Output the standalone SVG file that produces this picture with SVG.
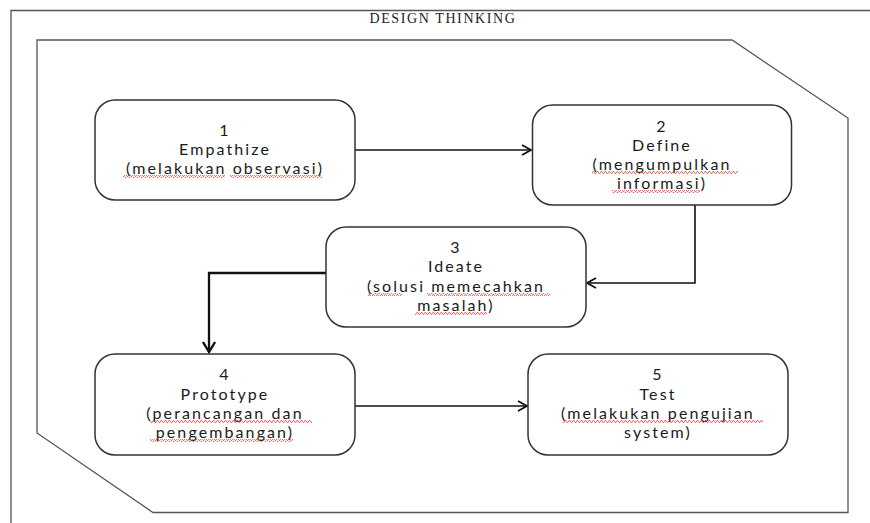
<svg xmlns="http://www.w3.org/2000/svg" width="870" height="523" viewBox="0 0 870 523">
<style>
.frame{fill:none;stroke:#555;stroke-width:1.3}
.box{fill:#fff;stroke:#333;stroke-width:1.5}
.lbl{font-family:Lato,"Liberation Sans",sans-serif;font-size:16px;font-weight:400;fill:#1a1a1a;text-anchor:middle;letter-spacing:2.1px}
.title{font-family:"Liberation Serif",serif;font-size:14px;fill:#222;text-anchor:middle;letter-spacing:1.6px}
.conn{fill:none;stroke:#111;stroke-width:1.6}
.sq{fill:url(#squig)}
</style>
<defs>
<marker id="ah" markerWidth="12" markerHeight="12" refX="10" refY="6" orient="auto" markerUnits="userSpaceOnUse">
<path d="M1,1 L10,6 L1,11" fill="none" stroke="#111" stroke-width="1.8"/>
</marker>
<marker id="ah2" markerWidth="14" markerHeight="14" refX="11" refY="7" orient="auto" markerUnits="userSpaceOnUse">
<path d="M1,1 L11,7 L1,13" fill="none" stroke="#111" stroke-width="2.4"/>
</marker>
<pattern id="squig" width="4" height="3" patternUnits="userSpaceOnUse">
<polyline points="0,2.5 1,0.5 2,0.5 3,2.5 4,2.5" fill="none" stroke="#e33" stroke-width="0.7"/>
</pattern>
</defs>
<rect x="0" y="0" width="870" height="523" fill="#fff"/>
<g id="outer-frame">
<path class="frame" d="M11,530 L11,10.5 L880,10.5"/>
<text class="title" x="443" y="23">DESIGN THINKING</text>
<path class="frame" d="M37,40 L732,40 L848,118 L848,512.5 L153,512.5 L37,433 Z"/>
</g>
<g id="connectors">
<line class="conn" x1="355" y1="150" x2="531" y2="150" marker-end="url(#ah)"/>
<polyline class="conn" points="695,205 695,283 587,283" marker-end="url(#ah)"/>
<polyline class="conn" points="326,273 209,273 209,352" style="stroke-width:2.3" marker-end="url(#ah2)"/>
<line class="conn" x1="355" y1="406" x2="527" y2="406" marker-end="url(#ah)"/>
</g>
<g id="node1">
<rect class="box" x="95" y="100" width="260" height="100" rx="20"/>
<text class="lbl" x="225" y="136">1</text>
<text class="lbl" x="225" y="155">Empathize</text>
<text class="lbl" x="225" y="174">(melakukan observasi)</text>
<rect class="sq" x="123" y="175" width="102" height="3"/>
<rect class="sq" x="230" y="175" width="92" height="3"/>
</g>
<g id="node2">
<rect class="box" x="532.5" y="105" width="259" height="100" rx="20"/>
<text class="lbl" x="662" y="132">2</text>
<text class="lbl" x="662" y="151">Define</text>
<text class="lbl" x="662" y="170">(mengumpulkan</text>
<text class="lbl" x="662" y="189">informasi)</text>
<rect class="sq" x="592" y="171" width="146" height="3"/>
<rect class="sq" x="612" y="190" width="88" height="3"/>
</g>
<g id="node3">
<rect class="box" x="326" y="227" width="260" height="100" rx="20"/>
<text class="lbl" x="456" y="253">3</text>
<text class="lbl" x="456" y="272">Ideate</text>
<text class="lbl" x="456" y="292">(solusi memecahkan</text>
<text class="lbl" x="456" y="311">masalah)</text>
<rect class="sq" x="368" y="293" width="34" height="3"/>
<rect class="sq" x="427" y="293" width="123" height="3"/>
<rect class="sq" x="415" y="312" width="72" height="3"/>
</g>
<g id="node4">
<rect class="box" x="95" y="354" width="260" height="101" rx="20"/>
<text class="lbl" x="225" y="380">4</text>
<text class="lbl" x="225" y="400">Prototype</text>
<text class="lbl" x="225" y="419">(perancangan dan</text>
<text class="lbl" x="225" y="438">pengembangan)</text>
<rect class="sq" x="150" y="420" width="162" height="3"/>
<rect class="sq" x="150" y="439" width="143" height="3"/>
</g>
<g id="node5">
<rect class="box" x="528" y="354" width="260" height="101" rx="20"/>
<text class="lbl" x="658" y="380">5</text>
<text class="lbl" x="658" y="400">Test</text>
<text class="lbl" x="658" y="419">(melakukan pengujian</text>
<text class="lbl" x="658" y="438">system)</text>
<rect class="sq" x="563" y="420" width="200" height="3"/>
</g>
</svg>
